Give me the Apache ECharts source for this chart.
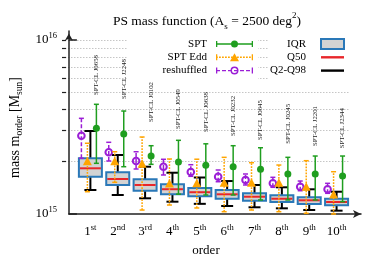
<!DOCTYPE html>
<html><head><meta charset="utf-8">
<script src="https://cdn.jsdelivr.net/npm/echarts@6/dist/echarts.min.js"></script>
<style>html,body{margin:0;padding:0;background:#fff}#c{width:374px;height:262px}</style>
</head><body><div id="c"></div>
<script>
// ---- data (mass in units of 1e15 M_sun) ----
const orderLabels = ['1st','2nd','3rd','4th','5th','6th','7th','8th','9th','10th'];
const clusters = ['SPT-CL J0658','SPT-CL J2248','SPT-CL J0102','SPT-CL J0549','SPT-CL J0638',
                  'SPT-CL J0232','SPT-CL J0645','SPT-CL J0245','SPT-CL J2201','SPT-CL J2344'];
const q2  = [1.374, 1.286, 1.231, 1.177, 1.144, 1.112, 1.093, 1.078, 1.054, 1.045];
const q25 = [1.638, 1.468, 1.361, 1.300, 1.266, 1.224, 1.192, 1.172, 1.141, 1.122];
const q50 = [1.831, 1.589, 1.468, 1.388, 1.334, 1.298, 1.257, 1.224, 1.199, 1.172];
const q75 = [2.090, 1.737, 1.582, 1.483, 1.411, 1.374, 1.315, 1.281, 1.247, 1.224];
const q98 = [3.000, 2.183, 1.870, 1.727, 1.621, 1.547, 1.468, 1.424, 1.387, 1.343];
const spt   = [3.108, 2.883, 2.154, 1.990, 1.905, 1.870, 1.807, 1.698, 1.698, 1.654];
const sptLo = [1.956, 1.870, 1.930, 1.300, 1.286, 1.286, 1.204, 1.204, 1.204, 1.177];
const sptHi = [4.271, 3.908, 2.469, 2.652, 2.532, 2.469, 2.404, 2.117, 2.154, 2.154];
const edd   = [1.998, 1.998, 1.930, 1.487, 1.491, 1.501, 1.501, 1.501, 1.424, 1.286];
const eddLo = [1.343, 1.521, 1.054, 1.126, 1.083, 1.031, 1.054, 1.031, 1.009, 1.000];
const eddHi = [2.550, 2.280, 2.770, 2.071, 2.065, 2.117, 1.972, 1.912, 2.025, 1.750];
const resh   = [2.818, 2.263, 2.017, 1.870, 1.743, 1.638, 1.568, 1.501, 1.435, 1.387];
const reshLo = [2.090, 2.017, 1.814, 1.676, 1.647, 1.533, 1.468, 1.424, 1.361, 1.315];
const reshHi = [3.548, 2.583, 2.280, 2.063, 1.920, 1.790, 1.698, 1.625, 1.547, 1.501];
const clusterLabelAt = [4.83, 4.58, 3.38, 3.08, 2.96, 2.81, 2.66, 2.53, 2.46, 2.39];
const yMajorTicks = [1, 10];
const yGridTicks = [2, 3, 4, 5, 6, 7, 8, 9, 10];

// ---- styles ----
const SERIF = "'Liberation Serif','DejaVu Serif',serif";
const GREEN = '#1f9e1f', ORANGE = '#ffa500', PURPLE = '#9b1ed6', BLUE = '#2a78b8', RED = '#e8262b';
const xs = orderLabels.map((_, i) => i + 1);

function dashes(len, dash, gap, y0, y1) {
  let s = '';
  for (let x = 0; x < len; x += dash + gap) {
    const e = Math.min(len, x + dash);
    s += 'M' + x + ' ' + y0 + 'H' + e + 'V' + y1 + 'H' + x + 'Z';
  }
  return s;
}
const caps37 = 'M0 2H1.3V8H0ZM35.7 2H37V8H35.7Z';
const iconSPT = 'path://M0 0M37 10M0 4.3H37V5.7H0Z' + caps37 + 'M15 5A3.5 3.5 0 1 1 22 5A3.5 3.5 0 1 1 15 5Z';
const iconEdd = 'path://M0 0M37 10' + dashes(37, 1.8, 1.2, 4.3, 5.7) + caps37 + 'M14 9L18.5 1L23 9Z';
const iconResh = 'path://M0 0M37 10' + dashes(37, 4, 2, 4.3, 5.7) + caps37 +
  'M14.5 5A4 4 0 1 1 22.5 5A4 4 0 1 1 14.5 5ZM16 5A2.5 2.5 0 1 0 21 5A2.5 2.5 0 1 0 16 5Z';
const iconLine = 'path://M0 0M23 10M0 3.8H23V6.2H0Z';

function errRender(dx, color, dash, marker) {
  return function (params, api) {
    const x = api.value(0);
    const c = api.coord([x, api.value(1)]);
    const lo = api.coord([x, api.value(2)]);
    const hi = api.coord([x, api.value(3)]);
    const cx = c[0] + dx;
    const ls = {stroke: color, lineWidth: 1.5, fill: null, lineDash: dash};
    const cs = {stroke: color, lineWidth: 1.5, fill: null};
    const ch = [
      {type: 'line', shape: {x1: cx, y1: lo[1], x2: cx, y2: hi[1]}, style: ls},
      {type: 'line', shape: {x1: cx - 2.5, y1: lo[1], x2: cx + 2.5, y2: lo[1]}, style: cs},
      {type: 'line', shape: {x1: cx - 2.5, y1: hi[1], x2: cx + 2.5, y2: hi[1]}, style: cs}
    ];
    if (marker === 'dot') ch.push({type: 'circle', shape: {cx: cx, cy: c[1], r: 3.5}, style: {fill: color}});
    if (marker === 'tri') ch.push({type: 'polygon', shape: {points: [[cx, c[1] - 5], [cx - 4.5, c[1] + 3.5], [cx + 4.5, c[1] + 3.5]]}, style: {fill: color}});
    if (marker === 'ring') ch.push({type: 'circle', shape: {cx: cx, cy: c[1], r: 3.3}, style: {fill: null, stroke: color, lineWidth: 2}});
    return {type: 'group', children: ch};
  };
}

const supRich = {
  b: {fontFamily: SERIF, fontSize: 13, lineHeight: 18, color: '#000'},
  sup: {fontFamily: SERIF, fontSize: 8.5, lineHeight: 9, verticalAlign: 'top', color: '#000'}
};

const option = {
  animation: false,
  graphic: [{
    type: 'text', x: 207, y: 21,
    style: {
      text: '{t|PS mass function (A}{sub|s}{t| = 2500 deg}{sup|2}{t|)}',
      align: 'center', verticalAlign: 'middle',
      rich: {
        t: {fontFamily: SERIF, fontSize: 13.5, lineHeight: 20, fill: '#000', color: '#000'},
        sub: {fontFamily: SERIF, fontSize: 9, lineHeight: 9, verticalAlign: 'bottom', color: '#000'},
        sup: {fontFamily: SERIF, fontSize: 9, lineHeight: 9, verticalAlign: 'top', color: '#000'}
      }
    }
  }],
  grid: [
    {left: 62, right: 24, top: 31, bottom: 48},
    {left: 62, right: 13, top: 31, bottom: 48}
  ],
  xAxis: [
    {gridIndex: 0, type: 'value', min: 0.2143, max: 10.5,
     axisLine: {show: false}, axisTick: {show: false}, axisLabel: {show: false}, splitLine: {show: false},
     name: 'order', nameLocation: 'middle', nameGap: 31,
     nameTextStyle: {fontFamily: SERIF, fontSize: 13, color: '#000'}},
    {gridIndex: 1, type: 'value', min: 0.2143, max: 10.893,
     axisLine: {onZero: false, symbol: ['none', 'arrow'], symbolSize: [6, 8], lineStyle: {color: '#222', width: 1.5}},
     axisTick: {show: false}, splitLine: {show: false},
     axisLabel: {customValues: xs, margin: 9,
       formatter: function (v) {
         const m = /^(\d+)(\D+)$/.exec(orderLabels[Math.round(v) - 1]);
         return '{b|' + m[1] + '}{sup|' + m[2] + '}';
       }, rich: supRich}}
  ],
  yAxis: [
    {gridIndex: 0, type: 'log', logBase: 10, min: 1, max: 11.27,
     axisLine: {show: false}, axisLabel: {show: false},
     axisTick: {inside: true, length: 4, customValues: yGridTicks, lineStyle: {color: '#222', width: 1.2}},
     splitLine: {show: true, lineStyle: {color: '#b8b8b8', type: [1.5, 1.5], width: 0.8}}},
    {gridIndex: 1, type: 'log', logBase: 10, min: 1, max: 11.27,
     axisLine: {onZero: false, symbol: ['none', 'arrow'], symbolSize: [6, 7], symbolOffset: [0, -2.5], lineStyle: {color: '#222', width: 1.5}},
     axisTick: {inside: true, length: 8, customValues: yMajorTicks, lineStyle: {color: '#222', width: 1.5}},
     splitLine: {show: false},
     axisLabel: {customValues: yMajorTicks, margin: 12,
       formatter: function (v) { return '{b|10}{sup|' + (15 + Math.round(Math.log10(v))) + '}'; },
       rich: supRich},
     name: '{n|mass m}{sub|order}{n| [M}{sub|sun}{n|]}', nameLocation: 'middle', nameGap: 41, nameRotate: 90,
     nameTextStyle: {padding: [0, 10, 0, 0], rich: {
       n: {fontFamily: SERIF, fontSize: 14, lineHeight: 19, color: '#000'},
       sub: {fontFamily: SERIF, fontSize: 9.5, lineHeight: 10, verticalAlign: 'bottom', color: '#000'}
     }}}
  ],
  legend: [
    {orient: 'vertical', align: 'right', right: 116, top: 34.5, padding: [3, 5, 6, 35],
     backgroundColor: '#fff', itemWidth: 37, itemHeight: 10, itemGap: 0.3, selectedMode: false,
     textStyle: {fontFamily: SERIF, fontSize: 11, color: '#000', lineHeight: 13, padding: [0, 4, 0, 0]},
     data: [
       {name: 'SPT', icon: iconSPT, itemStyle: {color: GREEN, borderWidth: 0}},
       {name: 'SPT Edd', icon: iconEdd, itemStyle: {color: ORANGE, borderWidth: 0}},
       {name: 'reshuffled', icon: iconResh, itemStyle: {color: PURPLE, borderWidth: 0}}
     ]},
    {orient: 'vertical', align: 'right', right: 24, top: 34.5, padding: [3, 5, 6, 1],
     backgroundColor: '#fff', itemWidth: 23, itemHeight: 10, itemGap: 0.3, selectedMode: false,
     textStyle: {fontFamily: SERIF, fontSize: 11, color: '#000', lineHeight: 13, padding: [0, 10, 0, 0]},
     data: [
       {name: 'IQR', icon: 'rect', itemStyle: {color: '#d3d3d3', borderColor: BLUE, borderWidth: 2}},
       {name: 'Q50', icon: iconLine, itemStyle: {color: RED, borderWidth: 0}},
       {name: 'Q2-Q98', icon: iconLine, itemStyle: {color: '#000', borderWidth: 0}}
     ]}
  ],
  series: [
    {name: 'Q2-Q98', type: 'custom', xAxisIndex: 1, yAxisIndex: 1, z: 2, itemStyle: {color: '#000'},
     data: xs.map((x, i) => [x, q2[i], q98[i]]), encode: {x: 0, y: [1, 2]},
     renderItem: function (params, api) {
       const x = api.value(0);
       const lo = api.coord([x, api.value(1)]), hi = api.coord([x, api.value(2)]);
       const cx = lo[0], st = {stroke: '#000', lineWidth: 2, fill: null};
       return {type: 'group', children: [
         {type: 'line', shape: {x1: cx, y1: lo[1], x2: cx, y2: hi[1]}, style: st},
         {type: 'line', shape: {x1: cx - 6, y1: lo[1], x2: cx + 6, y2: lo[1]}, style: st},
         {type: 'line', shape: {x1: cx - 6, y1: hi[1], x2: cx + 6, y2: hi[1]}, style: st}
       ]};
     }},
    {name: 'IQR', type: 'custom', xAxisIndex: 1, yAxisIndex: 1, z: 3, itemStyle: {color: '#d3d3d3'},
     data: xs.map((x, i) => [x, q25[i], q75[i]]), encode: {x: 0, y: [1, 2]},
     renderItem: function (params, api) {
       const x = api.value(0);
       const lo = api.coord([x, api.value(1)]), hi = api.coord([x, api.value(2)]);
       return {type: 'rect', shape: {x: lo[0] - 11.5, y: hi[1], width: 23, height: lo[1] - hi[1]},
               style: {fill: '#d3d3d3', stroke: BLUE, lineWidth: 2}};
     }},
    {name: 'Q50', type: 'custom', xAxisIndex: 1, yAxisIndex: 1, z: 4, itemStyle: {color: RED},
     data: xs.map((x, i) => [x, q50[i]]), encode: {x: 0, y: 1},
     renderItem: function (params, api) {
       const p = api.coord([api.value(0), api.value(1)]);
       return {type: 'line', shape: {x1: p[0] - 10.5, y1: p[1], x2: p[0] + 10.5, y2: p[1]},
               style: {stroke: RED, lineWidth: 2}};
     }},
    {name: 'reshuffled', type: 'custom', xAxisIndex: 1, yAxisIndex: 1, z: 5, itemStyle: {color: PURPLE},
     data: xs.map((x, i) => [x, resh[i], reshLo[i], reshHi[i]]), encode: {x: 0, y: [1, 2, 3]},
     renderItem: errRender(-9, PURPLE, [4, 2], 'ring')},
    {name: 'SPT Edd', type: 'custom', xAxisIndex: 1, yAxisIndex: 1, z: 6, itemStyle: {color: ORANGE},
     data: xs.map((x, i) => [x, edd[i], eddLo[i], eddHi[i]]), encode: {x: 0, y: [1, 2, 3]},
     renderItem: errRender(-3, ORANGE, [1.8, 1.2], 'tri')},
    {name: 'SPT', type: 'custom', xAxisIndex: 1, yAxisIndex: 1, z: 7, itemStyle: {color: GREEN},
     data: xs.map((x, i) => [x, spt[i], sptLo[i], sptHi[i]]), encode: {x: 0, y: [1, 2, 3]},
     renderItem: errRender(6, GREEN, null, 'dot')},
    {name: 'clusters', type: 'custom', xAxisIndex: 1, yAxisIndex: 1, z: 7,
     data: xs.map((x, i) => [x, clusterLabelAt[i]]), encode: {x: 0, y: 1},
     renderItem: function (params, api) {
       const p = api.coord([api.value(0), api.value(1)]);
       return {type: 'text', x: p[0] + 6, y: p[1], rotation: Math.PI / 2,
               style: {text: clusters[params.dataIndex], fontFamily: SERIF, fontSize: 6.8, fill: '#222',
                       align: 'left', verticalAlign: 'middle'}};
     }}
  ]
};
const chart = echarts.init(document.getElementById('c'), null, {renderer: 'canvas'});
chart.setOption(option);
</script></body></html>
